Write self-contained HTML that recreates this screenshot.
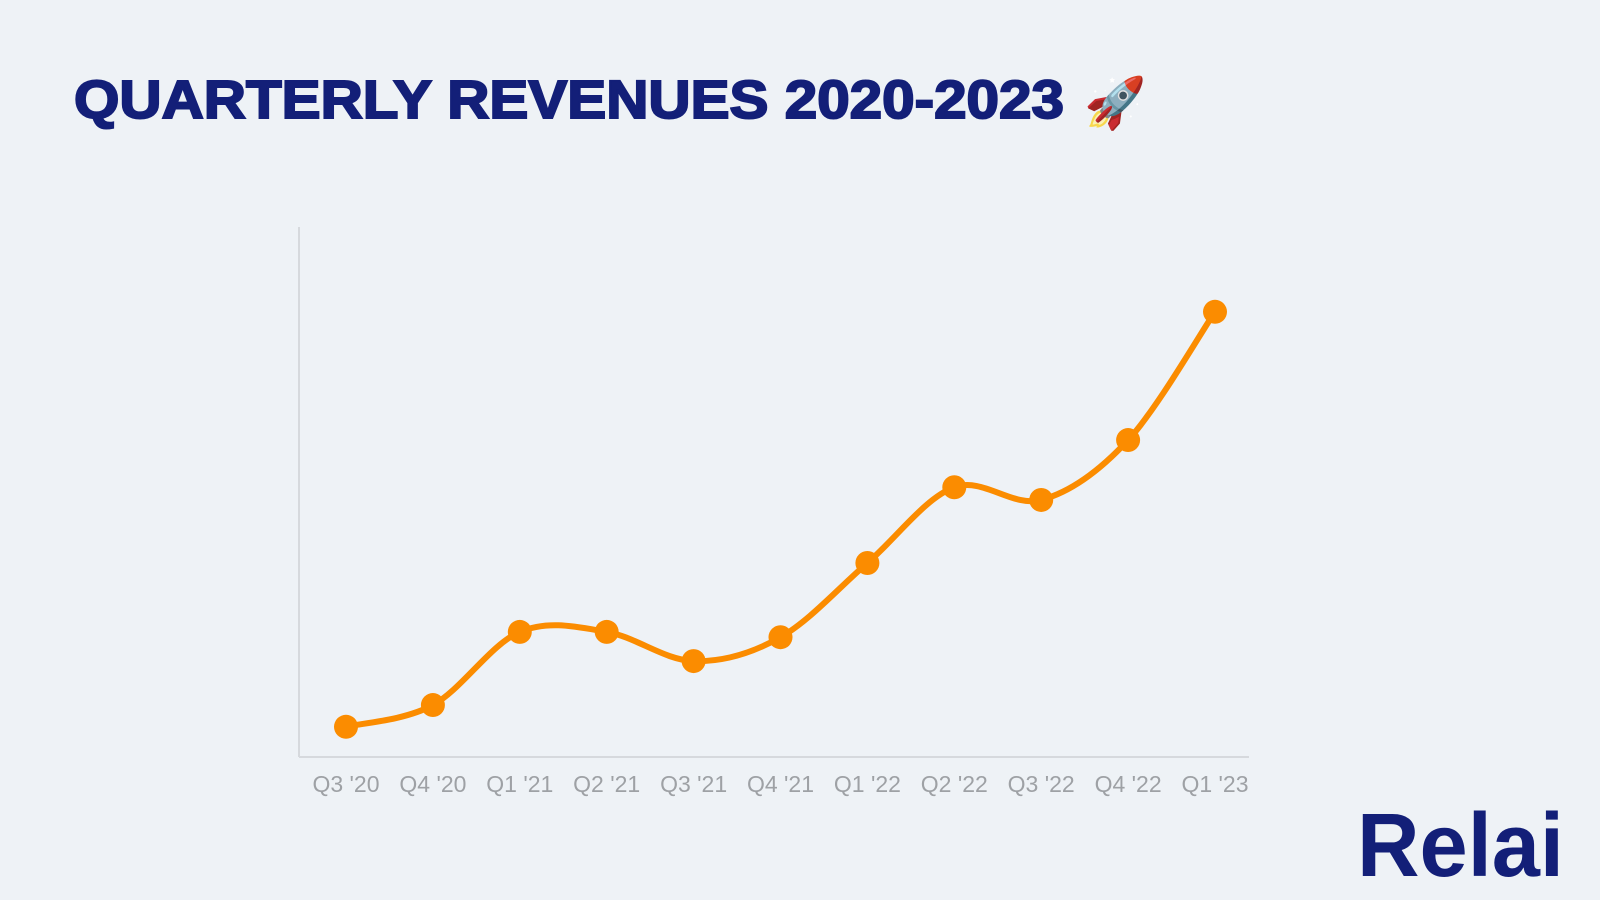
<!DOCTYPE html>
<html><head><meta charset="utf-8"><style>
html,body{margin:0;padding:0;background:#eef2f6;}
svg{display:block;}
</style></head><body>
<svg id="chart" width="1600" height="900" viewBox="0 0 1600 900">
<rect width="1600" height="900" fill="#eef2f6"/>
<text x="74" y="118" font-family="'Liberation Sans',sans-serif" font-weight="bold" font-size="54" fill="#131f78" stroke="#131f78" stroke-width="2" textLength="990" lengthAdjust="spacingAndGlyphs">QUARTERLY REVENUES 2020-2023</text>
<text x="1084" y="120" font-size="50" font-family="'Noto Color Emoji','DejaVu Sans',sans-serif">🚀</text>
<line x1="299" y1="227" x2="299" y2="757" stroke="#d6d9dd" stroke-width="2"/>
<line x1="299" y1="757" x2="1249" y2="757" stroke="#d6d9dd" stroke-width="2"/>
<g id="xlabels"></g>
<path id="line" fill="none" stroke="#fb8c00" stroke-width="6" stroke-linecap="round"/>
<g id="dots"></g>
<text x="1357" y="876" font-family="'Liberation Sans',sans-serif" font-weight="bold" font-size="90" fill="#131f78" textLength="207" lengthAdjust="spacingAndGlyphs">Relai</text>
</svg>
<script>
const categories = ["Q3 '20","Q4 '20","Q1 '21","Q2 '21","Q3 '21","Q4 '21","Q1 '22","Q2 '22","Q3 '22","Q4 '22","Q1 '23"];
const revenues = [5.7, 9.8, 23.6, 23.6, 18.1, 22.6, 36.6, 50.9, 48.5, 59.8, 84.0];
const yMin = 0, yMax = 100;
const NS = "http://www.w3.org/2000/svg";
function xScale(i){ return 346 + i * (1215 - 346) / (categories.length - 1); }
function yScale(v){ return 757 - (v - yMin) / (yMax - yMin) * 530; }
const pts = revenues.map((v,i)=>[xScale(i), yScale(v)]);
let d = "M" + pts[0][0] + "," + pts[0][1];
const t = 0.5;
for (let i=0;i<pts.length-1;i++){
  const p0 = pts[Math.max(0,i-1)], p1 = pts[i], p2 = pts[i+1], p3 = pts[Math.min(pts.length-1,i+2)];
  const c1 = [p1[0]+(p2[0]-p0[0])/6*t*2, p1[1]+(p2[1]-p0[1])/6*t*2];
  const c2 = [p2[0]-(p3[0]-p1[0])/6*t*2, p2[1]-(p3[1]-p1[1])/6*t*2];
  d += " C"+c1[0]+","+c1[1]+" "+c2[0]+","+c2[1]+" "+p2[0]+","+p2[1];
}
document.getElementById("line").setAttribute("d", d);
const dots = document.getElementById("dots");
const xl = document.getElementById("xlabels");
pts.forEach((p,i)=>{
  const c = document.createElementNS(NS,"circle");
  c.setAttribute("cx",p[0]); c.setAttribute("cy",p[1]); c.setAttribute("r",12);
  c.setAttribute("fill","#fb8c00");
  
  
  dots.appendChild(c);
  const tx = document.createElementNS(NS,"text");
  tx.setAttribute("x",xScale(i)); tx.setAttribute("y",792);
  tx.setAttribute("text-anchor","middle");
  tx.setAttribute("font-family","'Liberation Sans',sans-serif");
  tx.setAttribute("font-size","23"); tx.setAttribute("fill","#9ea1a5");
  tx.textContent = categories[i];
  
  
  xl.appendChild(tx);
});
</script>
</body></html>
